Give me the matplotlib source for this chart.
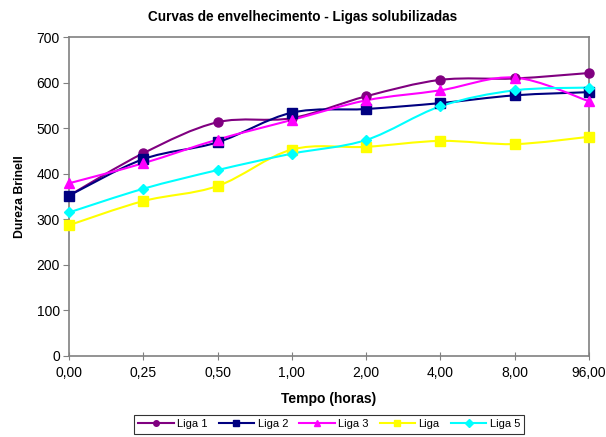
import numpy as np
import matplotlib
matplotlib.use("Agg")
import matplotlib.pyplot as plt
from matplotlib.path import Path
from matplotlib.patches import PathPatch
from matplotlib.lines import Line2D

plt.rcParams['font.family'] = ['Liberation Sans', 'DejaVu Sans']

# --- data ---
tempos = ["0,00", "0,25", "0,50", "1,00", "2,00", "4,00", "8,00", "96,00"]
liga1 = [352, 445, 513, 522, 570, 606, 609, 621]
liga2 = [352, 432, 469, 534, 542, 555, 572, 579]
liga3 = [379, 423, 475, 518, 561, 583, 611, 559]
liga4 = [287, 340, 373, 453, 459, 472, 465, 481]
liga5 = [315, 367, 408, 444, 474, 548, 583, 589]

series = [
    ("Liga 1", liga1, "#800080", "o", 6.5),
    ("Liga 2", liga2, "#000080", "s", 6.5),
    ("Liga 3", liga3, "#FF00FF", "^", 7),
    ("Liga",   liga4, "#FFFF00", "s", 7),
    ("Liga 5", liga5, "#00FFFF", "D", 5),
]


def smooth_path(x, y):
    # Excel-like smoothed line: cubic bezier through the points
    pts = np.column_stack([x, y]).astype(float)
    n = len(pts)
    verts = [pts[0]]
    codes = [Path.MOVETO]
    for i in range(n - 1):
        p0 = pts[i - 1] if i > 0 else pts[i]
        p1, p2 = pts[i], pts[i + 1]
        p3 = pts[i + 2] if i + 2 < n else pts[i + 1]
        c1 = p1 + (p2 - p0) / 6.0
        c2 = p2 - (p3 - p1) / 6.0
        verts += [c1, c2, p2]
        codes += [Path.CURVE4] * 3
    return Path(verts, codes)


fig = plt.figure(figsize=(6.06, 4.37), dpi=100)
ax = fig.add_axes([0.1139, 0.1854, 0.8581, 0.7299])

x = np.arange(len(tempos))
handles = []
for name, vals, col, mk, ms in series:
    ax.add_patch(PathPatch(smooth_path(x, vals), fill=False, edgecolor=col,
                           lw=1.5, zorder=2))
    ax.plot(x, vals, linestyle='none', marker=mk, ms=ms, color=col,
            markeredgecolor=col, zorder=3, clip_on=False)
    handles.append(Line2D([], [], color=col, lw=1.5, marker=mk, ms=4,
                          label=name))

ax.set_xlim(0, len(tempos) - 1)
ax.set_ylim(0, 700)
ax.set_xticks(x)
ax.set_xticklabels(tempos, fontsize=10)
ax.set_yticks(np.arange(0, 701, 100))
ax.tick_params(axis='y', labelsize=10, length=4, pad=2.5, color='#808080')
ax.tick_params(axis='x', direction='inout', length=6, pad=4, color='#808080')
for sp in ax.spines.values():
    sp.set_color('#808080')
    sp.set_linewidth(1.2)

ax.set_xlabel('Tempo (horas)', fontsize=10, fontweight='bold', labelpad=9)
ax.set_ylabel('Dureza Brinell', fontsize=8.8, fontweight='bold', labelpad=8)
fig.text(0.5, 0.961, 'Curvas de envelhecimento - Ligas solubilizadas',
         ha='center', va='center', fontsize=9.8, fontweight='bold')

leg = fig.legend(handles=handles, loc='lower center', ncol=5,
                 bbox_to_anchor=(0.543, -0.005), fontsize=8, frameon=True,
                 fancybox=False, edgecolor='black', handlelength=3.2,
                 columnspacing=1.0, handletextpad=0.3, borderpad=0.4)
leg.get_frame().set_linewidth(0.8)

fig.savefig('out.png', dpi=100)
